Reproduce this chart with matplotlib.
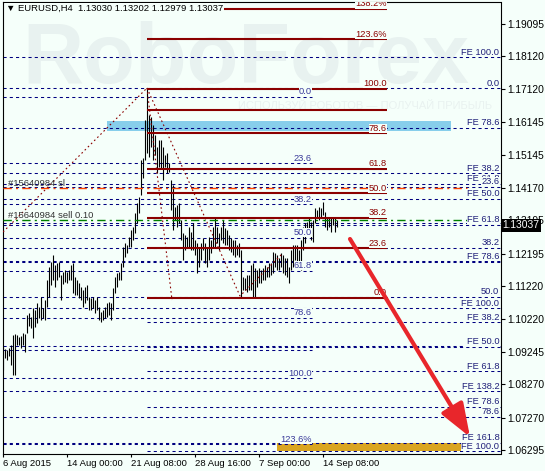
import numpy as np
import matplotlib
matplotlib.use('Agg')
import matplotlib.pyplot as plt
from matplotlib import transforms

plt.rcParams['font.family'] = ['Liberation Sans', 'DejaVu Sans']

## header: symbol and last bar OHLC
symbol = 'EURUSD,H4'
last_ohlc = [1.13030, 1.13202, 1.12979, 1.13037]

## H4 bars (high / low), one per bar from 6 Aug 2015
highs = [1.0939, 1.0933, 1.0930, 1.0936, 1.0945, 1.0975, 1.0978, 1.0975, 1.0969, 1.0972,
         1.0981, 1.0978, 1.1035, 1.1041, 1.1029, 1.1056, 1.1050, 1.1071, 1.1059, 1.1089,
         1.1056, 1.1080, 1.1140, 1.1179, 1.1194, 1.1215, 1.1185, 1.1191, 1.1194, 1.1155,
         1.1164, 1.1170, 1.1164, 1.1170, 1.1185, 1.1191, 1.1149, 1.1140, 1.1131, 1.1119,
         1.1110, 1.1119, 1.1125, 1.1089, 1.1086, 1.1089, 1.1080, 1.1089, 1.1059, 1.1044,
         1.1050, 1.1059, 1.1071, 1.1074, 1.1071, 1.1116, 1.1149, 1.1161, 1.1164, 1.1191,
         1.1239, 1.1251, 1.1245, 1.1269, 1.1290, 1.1299, 1.1341, 1.1371, 1.1389, 1.1500,
         1.1506, 1.1620, 1.1716, 1.1635, 1.1629, 1.1605, 1.1575, 1.1539, 1.1560, 1.1560,
         1.1539, 1.1515, 1.1521, 1.1491, 1.1440, 1.1425, 1.1359, 1.1365, 1.1371, 1.1320,
         1.1281, 1.1275, 1.1269, 1.1299, 1.1284, 1.1311, 1.1260, 1.1251, 1.1239, 1.1251,
         1.1266, 1.1251, 1.1239, 1.1269, 1.1260, 1.1299, 1.1329, 1.1299, 1.1281, 1.1299,
         1.1320, 1.1296, 1.1290, 1.1275, 1.1266, 1.1260, 1.1260, 1.1245, 1.1251, 1.1230,
         1.1149, 1.1146, 1.1155, 1.1155, 1.1185, 1.1191, 1.1176, 1.1170, 1.1176, 1.1170,
         1.1176, 1.1185, 1.1179, 1.1191, 1.1191, 1.1224, 1.1221, 1.1215, 1.1206, 1.1221,
         1.1215, 1.1206, 1.1206, 1.1179, 1.1230, 1.1245, 1.1245, 1.1245, 1.1230, 1.1260,
         1.1299, 1.1311, 1.1314, 1.1326, 1.1314, 1.1320, 1.1356, 1.1350, 1.1359, 1.1356,
         1.1374, 1.1344, 1.1329, 1.1326, 1.1326, 1.1329, 1.1326, 1.13202]
lows = [1.0870, 1.0906, 1.0900, 1.0912, 1.0885, 1.0855, 1.0855, 1.0945, 1.0945, 1.0936,
        1.0945, 1.0924, 1.0981, 1.1002, 1.0996, 1.0966, 1.0999, 1.1011, 1.1026, 1.1020,
        1.1026, 1.1020, 1.1059, 1.1089, 1.1125, 1.1140, 1.1119, 1.1140, 1.1149, 1.1080,
        1.1128, 1.1134, 1.1131, 1.1140, 1.1140, 1.1101, 1.1095, 1.1095, 1.1086, 1.1080,
        1.1059, 1.1071, 1.1080, 1.1050, 1.1050, 1.1056, 1.1041, 1.1050, 1.1020, 1.1014,
        1.1020, 1.1026, 1.1029, 1.1035, 1.1020, 1.1050, 1.1101, 1.1119, 1.1140, 1.1140,
        1.1179, 1.1209, 1.1221, 1.1239, 1.1239, 1.1260, 1.1281, 1.1311, 1.1341, 1.1395,
        1.1446, 1.1500, 1.1521, 1.1509, 1.1539, 1.1500, 1.1515, 1.1461, 1.1479, 1.1476,
        1.1440, 1.1479, 1.1461, 1.1464, 1.1350, 1.1290, 1.1320, 1.1299, 1.1311, 1.1260,
        1.1200, 1.1230, 1.1236, 1.1239, 1.1230, 1.1230, 1.1215, 1.1161, 1.1179, 1.1200,
        1.1230, 1.1191, 1.1179, 1.1200, 1.1221, 1.1239, 1.1239, 1.1251, 1.1230, 1.1260,
        1.1251, 1.1245, 1.1245, 1.1230, 1.1224, 1.1215, 1.1209, 1.1215, 1.1209, 1.1089,
        1.1110, 1.1110, 1.1104, 1.1110, 1.1110, 1.1089, 1.1089, 1.1119, 1.1131, 1.1131,
        1.1140, 1.1140, 1.1149, 1.1149, 1.1155, 1.1161, 1.1179, 1.1170, 1.1170, 1.1179,
        1.1161, 1.1155, 1.1149, 1.1131, 1.1170, 1.1179, 1.1200, 1.1176, 1.1179, 1.1170,
        1.1230, 1.1251, 1.1275, 1.1290, 1.1260, 1.1254, 1.1311, 1.1326, 1.1320, 1.1329,
        1.1335, 1.1299, 1.1290, 1.1299, 1.1284, 1.1305, 1.1284, 1.12979]

date_labels = ['6 Aug 2015', '14 Aug 00:00', '21 Aug 08:00', '28 Aug 16:00', '7 Sep 00:00', '14 Sep 08:00']
date_bars = [0, 32, 64, 96, 128, 160]

price_ticks = [1.19095, 1.18120, 1.17120, 1.16145, 1.15145, 1.14170, 1.13195,
               1.12195, 1.11220, 1.10220, 1.09245, 1.08270, 1.07270, 1.06295]

## fibo retracement (red) : 24 Aug high -> 3 Sep low
red_low, red_high = 1.1087, 1.1714
red_levels = [0.0, 23.6, 38.2, 50.0, 61.8, 78.6, 100.0, 123.6, 138.2]
red_extra = 1.1650

## fibo retracement (blue, ends at 14 Sep)
blue_top, blue_bottom = 1.1689, 1.0846
blue_levels = [0.0, 23.6, 38.2, 50.0, 61.8, 78.6, 100.0, 123.6]
blue_extra = 1.0930

## long fibo 1.1716 -> 1.0462
g_top, g_bottom = 1.1716, 1.0462
g_levels = [0.0, 23.6, 38.2, 50.0, 61.8, 78.6]
g_shown = [0.0, 23.6, 38.2, 50.0, 78.6]

## fibo expansions
fex_c, fex_range = 1.1711, 0.0655
fex_levels = [38.2, 50.0, 61.8, 78.6, 100.0, 138.2, 161.8]
fey_c, fey_range = 1.0814, 0.0995
fey_levels = [38.2, 50.0, 61.8, 78.6, 100.0]
fey_shown = [61.8, 78.6, 100.0]
fem_c, fem_range = 1.1253, 0.0627
fem_levels = [38.2, 50.0, 61.8, 78.6, 100.0]

## order lines
order_id = '#15640984'
sl_price, sell_price, sell_lots = 1.1416, 1.1319, 0.10

blue_zone = (1.1587, 1.1617)
gold_zone = (1.0627, 1.0651)

## trend lines of the fibo tools (bar, price)
trend1 = [(0, 1.1284), (72, 1.1716)]
trend2 = [(72, 1.1716), (84.5, 1.1080)]
trend3 = [(72, 1.1716), (118.5, 1.1092), (140, 1.1221)]

arrow_from = (173.5, 1.1263)
arrow_to = (233.5, 1.0669)

BG = '#f5fffa'
NAVY = '#000080'
DRED = '#8b0000'

fig = plt.figure(figsize=(5.45, 4.71), dpi=100, facecolor=BG)
ax = fig.add_axes([2.5/545, 17.5/471, 498/545, 452/471], facecolor=BG)
x0, x1 = -0.25, 248.75
ax.set_xlim(x0, x1)
ax.set_ylim(1.06195, 1.19755)
for s in ax.spines.values():
    s.set_color('black')
    s.set_linewidth(0.8)

up = transforms.offset_copy(ax.transData, fig=fig, x=0, y=0.5, units='dots')
lab_kw = dict(fontsize=6.7, ha='right', va='bottom', clip_on=True,
              transform=up, bbox=dict(facecolor=BG, edgecolor='none', pad=0.2))

def fmt(l):
    return '%.1f%%' % l if l > 100 else '%.1f' % l

# watermark
ax.text(0.039, 0.82, 'RoboForex', transform=ax.transAxes, fontsize=61, fontweight='bold',
        color='#e8f2f0', va='baseline', ha='left', zorder=0.5)
ax.text(0.983, 0.769, 'ИСПОЛЬЗУЙ РОБОТОВ — ПОЛУЧАЙ ПРИБЫЛЬ', transform=ax.transAxes,
        fontsize=8, color='#e9f2f0', ha='right', va='center', zorder=0.5)

# zones
ax.fill_between([52, 224], blue_zone[0], blue_zone[1], color='#87ceeb', lw=0, zorder=1)
ax.fill_between([137, 229], gold_zone[0], gold_zone[1], color='#daa520', lw=0, zorder=1)

dash = dict(colors=NAVY, linestyles=(0, (3, 3)), lw=0.75, zorder=2.5)

# expansions, full width
for l in fex_levels:
    p = fex_c - l / 100 * fex_range
    ax.hlines(p, x0, x1, **dash)
    ax.text(248.2, p, 'FE ' + fmt(l).rstrip('%'), color='#20207a', zorder=6, **lab_kw)
for l in fey_levels:
    p = fey_c + l / 100 * fey_range
    ax.hlines(p, x0, x1, **dash)
    if l in fey_shown:
        ax.text(248.2, p, 'FE %.1f' % l, color='#20207a', zorder=6, **lab_kw)
for l in fem_levels:
    p = fem_c - l / 100 * fem_range
    ax.hlines(p, 72, x1, **dash)
    ax.text(248.2, p, 'FE %.1f' % l, color='#20207a', zorder=6, **lab_kw)

# long fibo, full width
for l in g_levels:
    p = g_top - l / 100 * (g_top - g_bottom)
    ax.hlines(p, x0, x1, **dash)
    if l in g_shown:
        ax.text(248.2, p, fmt(l), color='#20207a', zorder=6.5, **lab_kw)

# blue retracement
for l in blue_levels:
    p = blue_top - l / 100 * (blue_top - blue_bottom)
    ax.hlines(p, x0, 154.5, **dash)
    ax.text(154.5, p, fmt(l), color='#3a3a9a', zorder=6, **lab_kw)
ax.hlines(blue_extra, x0, 154.5, **dash)

# bars
idx = np.arange(len(highs))
ax.vlines(idx, lows, highs, colors='black', lw=0.8, zorder=3)

# fibo tool trend lines
for tl in (trend1, trend2, trend3):
    xs, ys = zip(*tl)
    ax.plot(xs, ys, color=DRED, lw=0.8, ls=(0, (1.5, 2.5)), zorder=3.2)

# order lines
ax.hlines(sl_price, x0, 232, colors='#ff4500', linestyles=(0, (6, 3, 1.5, 3)), lw=1.0, zorder=3.3)
ax.hlines(sell_price, x0, 232, colors='#008000', linestyles=(0, (6, 3, 1.5, 3)), lw=1.0, zorder=3.3)
ax.text(2.5, sl_price, order_id + ' sl', fontsize=6.8, color='#333333', ha='left', va='bottom',
        transform=up, zorder=6)
ax.text(2.5, sell_price, '%s sell %.2f' % (order_id, sell_lots), fontsize=6.8, color='#333333',
        ha='left', va='bottom', transform=up, zorder=6)

# red retracement
for l in red_levels:
    p = red_low + l / 100 * (red_high - red_low)
    ax.hlines(p, 72, 192, colors=DRED, lw=1.5, zorder=4)
    ax.text(192, p, fmt(l), color=DRED, zorder=6, **lab_kw)
ax.hlines(red_extra, 72, 192, colors=DRED, lw=1.5, zorder=4)

# arrow
ax.annotate('', xy=arrow_to, xytext=arrow_from, zorder=7,
            arrowprops=dict(arrowstyle='-|>,head_length=1.35,head_width=0.5', mutation_scale=15,
                            color='#e8262b', lw=3, shrinkA=0, shrinkB=0))

# header
ax.text(0.007, 0.986, '▼ %s  %.5f %.5f %.5f %.5f' % ((symbol,) + tuple(last_ohlc)),
        transform=ax.transAxes, fontsize=6.8, ha='left', va='center', zorder=8,
        bbox=dict(facecolor=BG, edgecolor='none', pad=0.5))

# axes
ax.yaxis.tick_right()
ax.set_yticks(price_ticks)
ax.set_yticklabels(['%.5f' % t for t in price_ticks])
ax.tick_params(axis='y', direction='out', length=3, width=0.8, pad=2, labelsize=7.4)
ax.set_xticks(date_bars)
ax.set_xticklabels(date_labels, ha='left')
ax.tick_params(axis='x', direction='out', length=2.5, width=0.8, pad=1.5, labelsize=6.8)

# current price
ax.text(1.004, last_ohlc[3], '%.5f' % last_ohlc[3], transform=ax.get_yaxis_transform(),
        fontsize=7.4, color='white', ha='left', va='center', zorder=9,
        bbox=dict(facecolor='black', edgecolor='none', pad=1.2))

fig.savefig('out.png', dpi=100, facecolor=BG)
